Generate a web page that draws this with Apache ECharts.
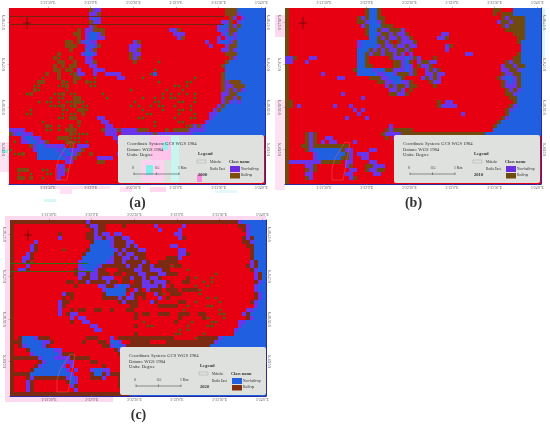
<!DOCTYPE html>
<html lang="en">
<head>
    <meta charset="UTF-8">
    <title>Built-up maps</title>
    <script src="https://cdn.jsdelivr.net/npm/echarts@6/dist/echarts.min.js"></script>
    <style>html,body{margin:0;padding:0;background:#fff;}</style>
</head>
<body>
<div id="map" style="width: 550px;height: 425px;"></div>
<script>
    // land cover cells, 64 x 44, spaces only for counting
    // R built-up red, D dark built-up, G green, B water blue, P non built-up purple
    var rows2000 = [
        "RRRRRRRR RRRRRRRR RRRRDPPR RRRRRRRR RRRRRRRR RRRRRRRR RRRRRRDD DBBBBBBB",
        "RRRRRRRR RRRRRRRR RRRRPPDR RRRRRRRR RRRRRRRR RRRRRRRR RRRRRRDD DPBBBBBB",
        "RRRRRRRR RRRRRRRR RRRRPBPR RRRRRRRR RRRRRRRR RRRRRRRR RRRRRRRD PRPBBBBB",
        "RRRRRRRR RRRRRRRR RRRRDPPR RRRRRRRR RRRRRRRR RRRRRRRR RRRRRPPD RPBBBBBB",
        "RRRRRRRR RRRRRRRR RRRRPDRR RRRRRRRR RRRRRRRR RRRRRRRR RRRRPBBD PDBBBBBB",
        "RRRRRRRR RRRRRRRR RDRPPDDD RRRRRRRR RRRRRRRR PPDRRRRR RRRRPBPD DBBBBBBB",
        "RRRRRRRR RRRRRRRR DDRPBBPD RRRRRRRR RRRRRRRR RPPPRRRR RRRRRPBD PBBBBBBB",
        "RRRRRRRR RRRRRRRR RDRPBBPP RRRRRRRR RRRRRRRR RRPDRRRR RRRRPRPB PBBBBBBB",
        "RRRRRRRR RRRRRRDD RDPBPPRR RRRRRRRP DRRRRRRR RRRRRRRR RPRRPBBP DBBBBBBB",
        "RRRRRRRR RRRRRRDD DRRPBPDR RRRRRRPP PRRRRRRR RRRRRRRR RRPRRRPD DBBBBBBB",
        "RRRRRRRR RRRRRRRD RRRBPDRR RRRRRRPP DRRRRRRR RRRRRRRR RRRRRPPD PBBBBBBB",
        "RRRRRRRR RRRRDRRR RRPBBPRR RRRRRRDP PRRRRRRR RRRRRRRR RRRRRRDD DBBBBBBB",
        "RRRRRRRR RRRDGRRD RRRPPRRR RRRRRRDP DRRRRRRR RRRRRRRR RRRRRRRD PBBBBBBB",
        "RRRRRRRR RRRRDDRR DRRPPDRR RRRRRRRD RRRRRGRR RRRRRRRR RRRRRRDB BBBBBBBB",
        "RRRRRRRR RRRDRDRD DRRRPPRR RRRRRRRR RRRRRRRR RRRRRRRR RRRRRDBB BBBBBBBB",
        "RRRRRRRR RRRDDRDD RPRRRPPP RRRRRRRR RRRRGRRR RRRRRRRR RRRRRRBB BBBBBBBB",
        "RRRRRRRR RDRRDRRG DPPRRPRR PPPPRRRR RRRGBRRR RRRRRRRR RRRRRDBB BBBBBBBB",
        "RRRRRRRR GRRRDRRR DDRRRGRR RRRPPRRR RGRRRRRR RRRRRRGR RRRRRDBB BBBBBBBB",
        "RRRRRRRD DRRRRDGR DRRDGGRR RRRRRRRR RRRRRGRR RRRRGGRR RRRRRDPD DDBBBBBB",
        "RRRRRRGG RRRRGGDR RRRRGGRR RRRRRRRR RRRRRRRR RGGRGRRR RRRRRDPP DDDBBBBB",
        "RRRRRRDG RRRRRRGR RRRRRRRR RRRRRRGR RRRRRRRG RRRGRRRR RRRRRDPD PDPBBBBB",
        "RRRRGDRR RRRGGDRG GRRRRRRG RRRRRRRR RRRRRRGR GRGRGRGR RRRRRPPD DBBBBBBB",
        "RRRRRRRR RRGRGGRR DDRRRRRR GRRRRRRR RGRRGRGR GGRRRRGR RRRRRPDD PDBBBBBB",
        "RRRRRRRG RGGRGRGG DDGRRRRR RRRRRRRG RRRRGGRR RRGGRRGR RRRRRPDP BPBBBBBB",
        "RRRRRRRR RRGGGDRG DRGGRRRR RRRRRRGR GRRGRGGR RGRRRGRR RRRRPDBB BBBBBBBB",
        "RRRRRGRR RRRRRGGR RDDGRRRR RRRRRRRR RGRRRRGR RRGGRGRR RRRPDBBB BBBBBBBB",
        "RRRRGGRR RRRRRGRG GRDRRRRR RRRRRRRR RRGGRRRR RRGRRRGR RRPPBBBB BBBBBBBB",
        "RRRRRRRR RRRRGGRD DRRRRRPP RRRRRRRR GGRRRRRR RGRRRGGR RRPBBBBB BBBBBBBB",
        "RRRRRRRR GRRRRRRR RDRRRRRP PRRRRRRR RRRRGRRR RRGGRRRR RPBBBBBB BBBBBBBB",
        "RRRRRRRR RDGRGRRD RGRRRRRR PPRRRRRR RRRRGRRR RRRRGDPD PBBBBBBB BBBBBBBB",
        "PPPPRRRR RGGRGRDD DRRRRRRD PPPDPPPP DDDRRRRD RDDDDPPP PBBBBBBB BBBBBBBB",
        "DPBPPPRR RRRRRRRD GGGGRRRR PPPRPPPP PPPPDPPP PPPPPPBB BBBBBBBB BBBBBBBB",
        "RRRPBBPP RRRRDDDG GGRRRRRR RRPPRRRR",
        "RGRPPBBP PDRRRRDD GGRGRRRR RRRPRRRR",
        "RRRRRDPB BPPPPPRD RPPPRRRR RRRRRRRR",
        "GRRRRRPB BBBBPBBP PPDRRRRR RRRRRRRR",
        "RGGDRRRB BBBBBPBB PDRRDRRR RRRPRRRR",
        "RRRRRRRB BBBBBBPP DRRRRRPP PPRRRRRR",
        "RRRRRRRR RRRRRRPP RRRRRRDD RRRRRRRR",
        "RRRRRRRR RRRRPPRR RRRRRRRR RRRRRRRR",
        "RRDDDRRR GGRRPPDR RRRRRRRR RRRRRRRR",
        "RRGRRGRR RGGRPPRR RRRRRRRR RRRRRRRR",
        "RRDDRDRR GRRRPRRR RRRRRRRR RRRRRRRR",
        "RRRRRRRR RRRRRRRR RRRRRRRR RRRRRRRR"
    ];
    var rows2010 = [
        "DRRRRRRR RRRRRRRR RRRRDBBD RRRRRRRR RRRRRRRR RRRRRRRR RRRRDDRR RBBBBBBB",
        "DRRRRRRR RRRRRRRR RRRRDBBD RRRRRRRR RRRRRRRR RRRRRRRR RRRRDRDD DBBBBBBB",
        "DRRRRRRR RRRRRRRR RRDPDBBD DRRRRRRR RRRRRRRR RRRRRRRR RRRRRRDP DDDDBBBB",
        "DRRRRRRR RRRRRRRR RRDDPBBP DRRRRRRR RRRRRRRR RRRRRRRR RRRRRPDD PDDDBBBB",
        "DRRRRRRR RRRRRRRR RRRPDBBB DDDRRRRR RRRRRRRR RRRRRRRR RRRRRRDP DDDDBBBB",
        "DRRRRRRR RRRRRRRR RRRRDBBD PPDDDPRR RRRRRRRR RRRRRRRR RRRRRRRD DDDDBBBB",
        "DRRRRRRR RRRRRRRR RRRRDBBP DDPDPPDR RRRRRRRP PRRRRRRR RRRRRRRR RDDDBBBB",
        "DRRRRRRR RRRRRRRR RRRRRBBD PDPPDPPD RRRRRRPP DRRRRRRR RRRRRRRR RRDDBBBB",
        "DRRRRRRR RRRRRRRR RRPBBBBD DPDRDPPP DRRRRRRR RRRRRRRR RRRRRRRR RRDBBBBB",
        "DRRRRRRR RRRRRRRR RRPBBBBP DPPDPPDP PRRRRRRR PDRRRRRR RRRRRRRR RRRBBBBB",
        "DRRRRRRR RRRRRRRR RRBBBDPD PDPPDDPD RRRRRRRR PRRRRRRR RRRRRRRR RRRBBBBB",
        "DRRRRRRR RRRRRRRR RRBBDPDD PDDPDPRP RRRRRRRR RRRRRPPR RRRRRRRR RRDBBBBB",
        "PPDRRRPP RRRRRRRR RRBBDRRR RRDPPPBP DPRRRDRR RRRRRRRR RRRRRRRR RDDBBBBB",
        "PPRRRPRR RRRRRRRR RRBBDRRR RRRDDPBD RPDDPPRR RRRRRRRR RRRRRRRD PDDBBBBB",
        "DRRRRRRR RRRRRRRR RRBBDDRR RRRDDPBP RDPPDRRR RRRRRRRR RRRRRRPD DPDDBBBB",
        "DRRRRRRR RRRRRRRR RDBBBBPB BDDPPPBP DRRPDPDR RRRRRRRR RRRRRRPP DDPBBBBB",
        "DRRRRRRR RPRRRRRR RRBBBBBP PBBPDDDP DRRPPDPP RRRRRRRR RRRRRRDP PDDBBBBB",
        "DRRRRRRR RRRRRPPR RRRRRDDD PPBBBDRR RRPDPDPR RRRRRRRR RRRRRDPB BPDBBBBB",
        "DRRRRRRR RRRRRRRR RRRRRRRD DPPBBPPD RRRRDPPR RRRRRRRR RRRRRRDP BPDBBBBB",
        "DRRRRRRR RRRRRRRR RRRRRRRR RPDPDDPD DRRRRDRR RRRRRRRR RRRRRRDP PPDBBBBB",
        "DRRRRRRR RRRRRRRR RRRRRRRR RRPPDPRD RRRRRRRR RRRRRRRR RRRRRRRD PDPBBBBB",
        "DRRRRRRR RRRRRRPR RRRRRRRR RRDDPPDR RRRRRRRR RRRRRRRR RRRRRRRD DPBBBBBB",
        "DRRRRRRR RRRRRRRR RRRPRRRR RRRRRRRR RRRRRRRR RRRRRRRR RRRRRRRR DDBBBBBB",
        "DDRRRRRR RRRRRRRR RRRRRRRR RRRRRRRR RRRRRRDR PPRRRRRR RRRRRRRR RDBBBBBB",
        "DDRPRRRR RRRRPRRR PRRRRRRR RRRRRRRR RRRRRRDP PPPRRRRR RRRRRRRR DPBBBBBB",
        "DRRRRRRR RRRRRRRR RPRPRRRR RRRRRRRR RRRRRRRR RRRRRRRR RRRRRRRD PBBBBBBB",
        "DRRRRRRR RRRRRRRR RRPRRRRR RRRRRRRR RRRRRRRR RRRRPRRR RRRRRRRD BBBBBBBB",
        "DRRRRRRR RRRRRRRP RRRRPRRR RRRRRRRR RRRRRRRR RRRRRRRR RRRRRRDP BBBBBBBB",
        "DRRRRRRR RRRRRRRR RRRRRRRR RRRRRRRR RRRRRRRR RRRRRRRR RRRRRDBB BBBBBBBB",
        "DRRRRRRR RRRRRRRR RRRRRRRR RRPRRRRR RRRRRRRR RRRRRRRR RRRRDBBB BBBBBBBB",
        "DRRRRRRR RRRRRRRR RRRRRRRR RDPDDDDD RRRRRRRR RRRRRRRR RRRRBBBB BBBBBBBB",
        "DRRRRDPD RRRRRRRR RRRRRRRR DPPPPDDD DDDDDDDD DDDDDDDD DDBBBBBB BBBBBBBB",
        "DRRRRDPD RRPPRRRR RRRRRRRR RDRPPDDD RRRRRRRR",
        "DRRRRDPD RPRPPRRR RPRRRRRR RRRRRDDP RRRRRRRR",
        "DRRRDDPD DDDDDDDD RRRRRRRR RRRRRRRR",
        "DRRRRDPB BBBBBBDP PRRRRPPR RRRRRRRR",
        "DRRRRRRP BBBBBBBD PRPPPRRR RRRRRRRR",
        "DRRRRRRP BBBBBBDD PRRPPRRR RRRRRRRR",
        "DPPPPPPP PDDDDDRP PRRRRPPR RRRRRRRR",
        "DRRRRPPD RRRRRRRP DRRRDDPP PRRRRRRR",
        "DRRRRDPD RRRRRRRR PPRRDPPD DRRRRRRR",
        "DRRRRPPR RRRRRRRP PRRRRRPP RRRRRRRR",
        "DRRRRDPR RRRRRRRR PDRRRRRR RRRRRRRR",
        "DRRRRRRR RRRRRRRR RRRRRRRR RRRRRRRR"
    ];
    var rows2020 = [
        "DDDDDDDD DDDDDDDD DDDPDDDD DDDDDDDD DDDDDDDD DDDDDDDD DDDDDDDD DPBBBBBB",
        "DRRRRRRR RRRRRRRR RRRDPPDD RRRRDRRR RRRRPRRR RRRPRRRR RRRRRRRR RDDPBBBB",
        "DRRRRRRR RRRRRRRR RRRRDPDD RRRRRRRR RRRRRPRR RRPRRRRR RRRRRRRR RRDPBBBB",
        "DRRRRRRR RRRRDRRR RRRDDPDP PRPPRRRR RRRRRRRR RPPRRRRR RRRRRRRR RRRPBBBB",
        "DRRRRRRR RRRRPRRR RRRDDPPD PPDDPPRR RRRRRRRR RRPDRRRR RRRRRRRR RRDPDBBB",
        "DRRRRRPR RRRRRRRR RRRRDBBB BPDDDPPR RRRRRRRR RRRRRRRR RRRRRRRR RRDDPBBB",
        "DRRRRPDR RRRRRRRR RRRRBBBB BPDDDPDP RRRRRRRR PPRRRRRR RRRRRRRR RRRDDBBB",
        "DRRRRPDR RRRRRGRR RRRDBBBB BBPDPDDD PPRRRRRR RRPPRRRR RRRRRRRR RRRRDBBB",
        "DRRRPDRR RRRRRRRR RRDBBBBB BBDPDPPD DDRRRRRR RRPPDRRR RRRRRRRR RRRRDBBB",
        "DRRPPDRR RRRRRRRR RRBBBBBB BPDDPPDP DDRRRRRD DDPRRRRR RRRRRRRR RRRRDBBB",
        "DRRPDGRR RRRRRRRR RPBBBBBB PPDDPDDD DPDRRDDD DDRRRRRR RRRRRRRR RRRRPDBB",
        "DRRRPRRR RRRRRRRR RPBBBBPD DDDDDPDD PDDPDDDD GDDRRRRR RRRRRRRR RRRDPDBB",
        "DRPPDRRR RRRRRRRR DPPBBPDD RRRDDDDP PDDPPPDD RRRRGRRR RRRRRRRR RRRRDPBB",
        "DRRRRRRR RRRRRRRR DPPDPPDD DRDDRDDD PPDDDPPD DDRRRRRR RRRGRRRR RRRRRPDB",
        "DRRRRRRR RRRRRRRR RPDDPPDP PPRRDDPD DPDPPDRR RRRRDRGR RRGRRRRR RRRRRPDB",
        "DRRRRRRR RRRRRRDD RDDPDDDD PDDRDDRD DPPDPPPD RRRDDRRR GRGRRRRR RRRRRDPB",
        "DRRRRRRR RRRRRRRR DRRRRRPP DDPBBPDD DPPPPDPR DRRRRRGR RGRRRRRR RRRRRPBB",
        "DRRRRRRR RRRRRRRR RRRRRRRP BBBBBDRP DRPDDDRD DDRDDDDG RRRRRRRR RRRRRPBB",
        "DRRRRRRR RRRRRPDD RRRRRRRD BBBBBRPD DDRRPDGR DDDRRRRG RRRRRRRR RRRRRDPB",
        "DRRRRRRR RRRRRDRD RRRRRRRD DDDPDPPD RDRRRPRD RRRRRRRR RGRGRRRR RRRRRDPB",
        "DRRRRRRR RRRRPDDR RRRRRRRR RRRDPDDD RRRPDRRR RRDDRRGR RRRRGRRR RRRRDPBB",
        "DRRRRRRR RRRRPDRR RRRRRRRR RRRRRRDD RRRRRDDD DDRRGRRR RGGRRRRR RRRRRPBB",
        "DRRRRRRR RRRRPRRD RDDRRDDR RDRRRDDR RRRRRRRR RRRGRRRR RRRRGRRR RRRPPBBB",
        "DRRRRRRR RRRRPRDP PRRRRRRR RRRRRRRD RDDRRDDD RRDDDRRD DRRRGGRR RRPDBBBB",
        "DRRRRRRR RRRRRRRP RPPRRRRR RRRRRRRD RRRRRRRR RRDRRRRR DGRRRGRR RRRDPBBB",
        "DRRRRRRR RRRRRRRD RRPPRRRR RRRRRRRR RGRRRRRR RDRRRGRR RRGGRRRR RPPBBBBB",
        "DRRRRRRR RRRRRRRR RRRRPPRR RRRRRRRD RRGGRRRR RRRRGRRR RGGRRRRR RPBBBBBB",
        "DRRRRRRR RRRRRRRR RRRRRPPR RRRRRRRR RRRRRRRR RRGRGRRR RRRRRRRR PBBBBBBB",
        "DRRRRRRR RRRRRRRR RRRRRRRR RRRRRRRD RRRRRRRR RGGRRRRR GRRRRRRR BBBBBBBB",
        "DRDBBBPD DDRRRRRR RRRDDDRR RPRDDDDD DDDDDDDD DRRRRRGD DDDDPBBB BBBBBBBB",
        "DDDBBBBB PPDRRRRR RRDRRRDD RBBPRRDD DDDRRRRD DDDDDDDD DDDPBBBB BBBBBBBB",
        "DRDPBBBB PDRRRRRR RRRRRRRD DPBBPDDD DDDDDDDD DDDDDDDD DDBBBBBB BBBBBBBB",
        "DRRRDBBB BBBPPRRR RRRRRRRR RRDPBBRR RRRRRRRR",
        "DRRRRPBB BBBBPDDD RRRRRRRR RRRDPPDD RRRRRRRR",
        "DDDDDDDP BBBPPPPD DDDDRRRR RRRRRPDD RRRRRRRR",
        "DRRRRRRD PBBBBBPP RRRRDDRR RRRRRRRR",
        "DRRRRRDP BBBBBPRP RRRRRRRD RRRRRRRR",
        "DRRRRDBB BBBBBBPR PRRRPBBP PRRRRRRR",
        "DDDDDBBB BBBBBBBP RRRRDBBD PDDDRRRR",
        "DRRRDPDD DDDDDDPB PRRRDDDP RRRDRRRR",
        "DRRRPDRR RRRRRRDB PRRRRRRR RRRDRRRR",
        "DRRRPDRR RRRRRRRP DRRRRRRR RRRDRRRR",
        "DRRRPDRR RRRRRRRR PRRRRRRR RRRRRRRR",
        "DDDDDDDD DDDDDDDD DDDDDDDD DDDDDDBB"
    ];
    var panelYears = ['2000', '2010', '2020'];
    var panelCaptions = ['(a)', '(b)', '(c)'];
    var lonTicks = [12090, 12120, 12150, 12180, 12210, 12240];
    var lonTickLabels = ['3°21\'30"E', '3°22\'0"E', '3°22\'30"E', '3°23\'0"E', '3°23\'30"E', '3°24\'0"E'];
    var latTicks = [23250, 23220, 23190, 23160];
    var latTickLabels = ['6°27\'30"N', '6°27\'0"N', '6°26\'30"N', '6°26\'0"N'];
    var infoLines = ['Coordinate System: GCS WGS 1984', 'Datum: WGS 1984', 'Units: Degree'];
    var classNames = ['Non-built-up', 'Built-up'];

    var lonMin = 12062.6, lonMax = 12242.6, latMax = 23260, latMin = 23135.8;
    var nCols = 64, nRows = 44;
    var lonStep = (lonMax - lonMin) / nCols, latStep = (latMax - latMin) / nRows;

    var panels = [
        {rows: rows2000, left: 9, top: 8, lx: 118, ly: 135, dark: '#7a4a12', green: '#3f6a12', sw: ['#6a30e0', '#7a4f10']},
        {rows: rows2010, left: 285, top: 8, lx: 394, ly: 135, dark: '#6e4a0e', green: '#3f6a12', sw: ['#6a30e0', '#6e4a0e']},
        {rows: rows2020, left: 10, top: 220, lx: 120, ly: 347, dark: '#7c2a12', green: '#2f6d10', sw: ['#1f5fe0', '#80300f']}
    ];
    var classColor = {R: '#e60012', B: '#1f5fe0', P: '#6a35e8'};

    function cellData(rows) {
        var out = [];
        rows.forEach(function (line, r) {
            var s = line.replace(/ /g, '');
            for (var c = 0; c < nCols; c++) {
                var k = s.charAt(c) || s.charAt(s.length - 1);
                out.push([lonMin + c * lonStep, latMax - r * latStep, k]);
            }
        });
        return out;
    }

    function lonLabel(v) { return lonTickLabels[lonTicks.indexOf(v)] || ''; }
    function latLabel(v) { return latTickLabels[latTicks.indexOf(v)] || ''; }

    var grid = [], xAxis = [], yAxis = [], series = [], graphic = [];
    var serif = '"Liberation Serif", serif';

    function txt(x, y, s, size, bold, align) {
        graphic.push({
            type: 'text', z: 101, x: x, y: y, silent: true,
            style: {text: s, fill: '#333', font: (bold ? 'bold ' : '') + size + 'px ' + serif,
                textAlign: align || 'left', textVerticalAlign: 'middle'}
        });
    }
    function box(x, y, w, h, fill, z, r) {
        graphic.push({type: 'rect', z: z, silent: true, shape: {x: x, y: y, width: w, height: h, r: r || 0}, style: {fill: fill}});
    }
    function line(x1, y1, x2, y2, color, w, z) {
        graphic.push({type: 'line', z: z || 100, silent: true, shape: {x1: x1, y1: y1, x2: x2, y2: y2}, style: {stroke: color, lineWidth: w}});
    }

    // pale halo left by the jpeg around the maps
    box(5, 216, 261, 6, '#fbd9ef', -1);
    box(5, 216, 5, 186, '#fbd9ef', -1);
    box(5, 396, 108, 6, '#fbd9ef', -1);
    box(275, 15, 10, 22, '#fbd9ef', -1);
    box(275, 100, 10, 90, '#fbe3f3', -1);
    box(0, 142, 9, 30, '#fbe3f3', -1);
    box(40, 186, 70, 3, '#fbe3f3', -1);
    box(541, 8, 4, 50, '#d8f4fa', -1);

    // scan lines across the 2000 and 2020 rasters
    line(9, 16.5, 224, 16.5, '#74240f', 1);
    line(9, 24.5, 224, 24.5, '#74240f', 1);
    line(10, 263.5, 88, 263.5, '#2f6d10', 1);
    line(10, 271.5, 92, 271.5, '#3f6010', 1);

    panels.forEach(function (p, i) {
        grid.push({left: p.left, top: p.top, width: 256, height: 176});
        var axisX = function (pos, isBorder) {
            return {
                gridIndex: i, type: 'value', position: pos, min: lonMin, max: lonMax,
                splitLine: {show: false},
                axisLine: {show: isBorder, lineStyle: {color: '#2b2ba0', width: 1}},
                axisTick: {show: true, length: 1.5, customValues: lonTicks, lineStyle: {color: '#888', width: 0.5}},
                axisLabel: {show: true, customValues: lonTicks, formatter: lonLabel, fontSize: 3.6, margin: 2.5,
                    color: '#555', fontFamily: serif, hideOverlap: false}
            };
        };
        var axisY = function (pos, isBorder) {
            return {
                gridIndex: i, type: 'value', position: pos, min: latMin, max: latMax,
                splitLine: {show: false},
                axisLine: {show: isBorder, lineStyle: {color: '#2b2ba0', width: 1}},
                axisTick: {show: true, length: 1.5, customValues: latTicks, lineStyle: {color: '#888', width: 0.5}},
                axisLabel: {show: true, customValues: latTicks, formatter: latLabel, fontSize: 3.6, margin: 2.5,
                    rotate: 90, color: '#555', fontFamily: serif, hideOverlap: false}
            };
        };
        xAxis.push(axisX('bottom', true), axisX('top', false));
        yAxis.push(axisY('left', false), axisY('right', true));

        var colors = {R: classColor.R, B: classColor.B, P: classColor.P, D: p.dark, G: p.green};
        series.push({
            type: 'custom', xAxisIndex: i * 2, yAxisIndex: i * 2, silent: true, animation: false,
            data: cellData(p.rows), encode: {x: 0, y: 1},
            renderItem: function (params, api) {
                var at = api.coord([api.value(0), api.value(1)]);
                var size = api.size([lonStep, latStep]);
                var k = api.value(2);
                // green cells are only specks in the raster, over red
                if (k === 'G') {
                    return {type: 'group', children: [
                        {type: 'rect', shape: {x: at[0], y: at[1], width: size[0], height: size[1]}, style: {fill: colors.R}},
                        {type: 'rect', shape: {x: at[0] + 0.8, y: at[1] + 0.8, width: size[0] - 1.6, height: size[1] - 1.6}, style: {fill: colors.G}}
                    ]};
                }
                return {type: 'rect', shape: {x: at[0], y: at[1], width: size[0], height: size[1]},
                    style: {fill: colors[k]}};
            }
        });

        // north arrow
        var nx = p.left + 18, ny = p.top + 15;
        line(nx - 4, ny, nx + 4, ny, '#5a1010', 0.8);
        line(nx, ny - 6, nx, ny + 6, '#5a1010', 0.8);

        // study area outline
        graphic.push({type: 'polygon', z: 100, silent: true,
            shape: {points: [[p.left + 47, p.top + 172], [p.left + 58, p.top + 172], [p.left + 65, p.top + 135], [p.left + 60, p.top + 134], [p.left + 50, p.top + 150], [p.left + 47, p.top + 160]]},
            style: {fill: 'none', stroke: '#f4705f', lineWidth: 0.4}});

        // legend panel
        box(p.lx, p.ly, 146, 48, '#dfe1de', 100, 2);
        infoLines.forEach(function (s, k) { txt(p.lx + 9, p.ly + 9 + k * 5.5, s, 4.7); });
        txt(p.lx + 80, p.ly + 19, 'Legend', 4.6, true);
        graphic.push({type: 'rect', z: 101, silent: true, shape: {x: p.lx + 79, y: p.ly + 25, width: 9, height: 3}, style: {fill: 'none', stroke: '#999', lineWidth: 0.4}});
        txt(p.lx + 92, p.ly + 27, 'Mahoko', 3.4);
        txt(p.lx + 92, p.ly + 34, 'Badia East', 3.4);
        txt(p.lx + 111, p.ly + 27, 'Class name', 4.3, true);
        box(p.lx + 112, p.ly + 31, 10, 6, p.sw[0], 101);
        box(p.lx + 112, p.ly + 38, 10, 5.5, p.sw[1], 101);
        txt(p.lx + 123, p.ly + 34, classNames[0], 3.4);
        txt(p.lx + 123, p.ly + 40.5, classNames[1], 3.4);
        txt(p.lx + 15, p.ly + 33, '0', 3.8, false, 'center');
        txt(p.lx + 39, p.ly + 33, '0.5', 3.8, false, 'center');
        txt(p.lx + 60, p.ly + 33, '1 Km', 3.8);
        line(p.lx + 16, p.ly + 39, p.lx + 61, p.ly + 39, '#333', 0.5, 101);
        [16, 38.5, 61].forEach(function (dx) { line(p.lx + dx, p.ly + 37.5, p.lx + dx, p.ly + 40, '#333', 0.5, 101); });
        txt(p.lx + 80, p.ly + 40, panelYears[i], 4.6, true);

        // caption
        txt(p.left + 128.5, p.top + 195, panelCaptions[i], 14, true, 'center');
    });

    // compression speckle over panel (a)
    [[150, 136, 26, 24, '#ffc4ea'], [142, 160, 22, 22, '#ffd2ef'], [163, 142, 5, 8, '#8ff2ee'], [146, 165, 7, 10, '#7ff0ea'],
     [171, 136, 8, 46, '#c8f5ee'], [230, 172, 9, 2, '#ffb8e6'], [197, 174, 5, 8, '#ff8adf']].forEach(function (b) {
        box(b[0], b[1], b[2], b[3], b[4], 100.5);
    });
    [[60, 189, 12, 5, '#ffe0f4'], [44, 199, 12, 3, '#d8f8f8'], [120, 187, 12, 5, '#ffe0f4'], [150, 187, 16, 5, '#ffd8f0'],
     [215, 190, 22, 3, '#e6f8fc'], [2, 150, 6, 3, '#8ff2ee']].forEach(function (b) {
        box(b[0], b[1], b[2], b[3], b[4], -1);
    });

    var myChart = echarts.init(document.getElementById('map'));
    myChart.setOption({
        animation: false,
        backgroundColor: '#ffffff',
        grid: grid,
        xAxis: xAxis.map(function (a, k) { a.gridIndex = Math.floor(k / 2); return a; }),
        yAxis: yAxis.map(function (a, k) { a.gridIndex = Math.floor(k / 2); return a; }),
        series: series,
        graphic: {elements: graphic}
    });
</script>
</body>
</html>
